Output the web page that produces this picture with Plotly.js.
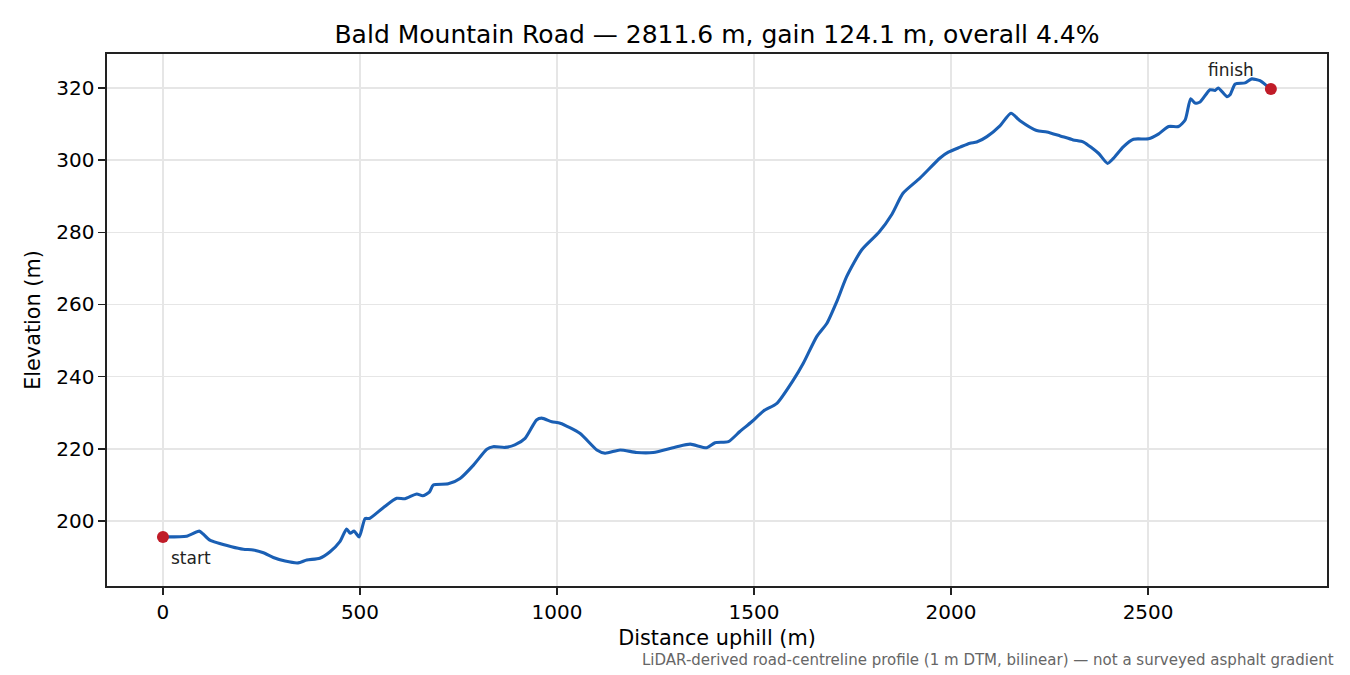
<!DOCTYPE html>
<html>
<head>
<meta charset="utf-8">
<script src="https://cdn.plot.ly/plotly-3.0.1.min.js"></script>
<style>
  html, body { margin: 0; padding: 0; background: #fff; }
  #profilePlot { width: 1350px; height: 675px; }
</style>
</head>
<body>
<div id="profilePlot"></div>
<script>
// distance along the road (m) and elevation (m)
var dist = [
  0, 60, 92, 102, 119, 174, 204, 229, 255, 280, 310, 343, 365, 398, 424, 449,
  466, 475, 485, 498, 513, 524, 559, 593, 614, 644, 659, 676, 686, 724, 754,
  788, 822, 838, 868, 893, 919, 948, 961, 987, 1008, 1058, 1101, 1122, 1160,
  1202, 1244, 1304, 1338, 1380, 1401, 1435, 1464, 1494, 1524, 1558, 1600,
  1625, 1659, 1685, 1710, 1735, 1773, 1817, 1850, 1878, 1921, 1972, 1993,
  2023, 2048, 2065, 2091, 2124, 2152, 2175, 2217, 2243, 2277, 2310, 2336,
  2374, 2397, 2412, 2437, 2463, 2501, 2526, 2552, 2577, 2594, 2608, 2619,
  2632, 2657, 2670, 2678, 2700, 2708, 2721, 2746, 2763, 2784, 2801, 2811.6
];
var elev = [
  195.6, 195.8, 197.2, 196.4, 194.7, 192.9, 192.2, 192.0, 191.2, 189.9, 188.9,
  188.4, 189.2, 189.7, 191.5, 194.3, 197.8, 196.6, 197.2, 195.6, 200.7, 200.7,
  203.7, 206.3, 206.2, 207.5, 207.0, 208.0, 210.0, 210.3, 211.8, 215.5, 219.9,
  220.6, 220.4, 221.1, 222.9, 228.0, 228.5, 227.5, 227.1, 224.3, 219.7, 218.8,
  219.7, 219.0, 219.0, 220.6, 221.3, 220.3, 221.7, 222.0, 224.8, 227.5, 230.5,
  232.6, 239.1, 243.7, 251.1, 254.8, 260.8, 267.7, 275.1, 280.0, 285.0, 290.8,
  295.0, 300.6, 302.2, 303.6, 304.7, 305.0, 306.5, 309.5, 313.0, 310.9, 308.2,
  307.8, 306.7, 305.6, 305.0, 301.9, 299.1, 300.5, 303.7, 305.8, 305.9, 307.2,
  309.3, 309.3, 311.1, 317.0, 315.8, 316.1, 319.5, 319.3, 320.0, 317.6, 318.1,
  321.1, 321.4, 322.5, 322.0, 320.6, 319.7
];
var endDist = [0, 2811.6];
var endElev = [195.6, 319.7];
var endLabels = ["start", "finish"];

var chartTitle = "Bald Mountain Road — 2811.6 m, gain 124.1 m, overall 4.4%";
var footNote = "LiDAR-derived road-centreline profile (1 m DTM, bilinear) — not a surveyed asphalt gradient";

var cb_profilePlot = function () {
  let trace1 = {
    x: dist,
    y: elev,
    type: "scatter",
    mode: "lines",
    line: { color: "#1a5fb4", width: 3.1, shape: "spline", smoothing: 0.6 },
    hoverinfo: "skip",
  };

  let trace2 = {
    x: endDist,
    y: endElev,
    type: "scatter",
    mode: "markers",
    marker: { color: "#c01c28", size: 12 },
    hoverinfo: "skip",
  };

  let axisCommon = {
    showline: true,
    mirror: true,
    linecolor: "#222",
    linewidth: 1.6,
    ticks: "outside",
    ticklen: 7,
    tickwidth: 1.6,
    tickcolor: "#222",
    showgrid: true,
    gridcolor: "#e6e6e6",
    gridwidth: 1.3,
    zeroline: false,
    tickfont: { family: "DejaVu Sans", size: 20, color: "#000" },
  };

  let layout = {
    width: 1350,
    height: 675,
    showlegend: false,
    paper_bgcolor: "#fff",
    plot_bgcolor: "#fff",
    margin: { l: 107, r: 23, t: 54, b: 89, pad: 0 },
    font: { family: "DejaVu Sans", color: "#000" },
    title: {
      text: chartTitle,
      font: { family: "DejaVu Sans", size: 25, color: "#000" },
      xref: "paper",
      x: 0.5,
      xanchor: "center",
      y: 0.95,
      yanchor: "middle",
    },
    xaxis: Object.assign({}, axisCommon, {
      range: [-142, 2954],
      tickvals: [0, 500, 1000, 1500, 2000, 2500],
      title: { text: "Distance uphill (m)", font: { family: "DejaVu Sans", size: 20.8 }, standoff: 8 },
    }),
    yaxis: Object.assign({}, axisCommon, {
      range: [182.0, 329.4],
      tickvals: [200, 220, 240, 260, 280, 300, 320],
      title: { text: "Elevation (m)", font: { family: "DejaVu Sans", size: 20.8 }, standoff: 10 },
    }),
    annotations: [
      {
        x: endDist[0], y: endElev[0], xref: "x", yref: "y",
        text: endLabels[0], showarrow: false,
        xanchor: "left", yanchor: "middle", xshift: 6, yshift: -21,
        font: { family: "DejaVu Sans", size: 17, color: "#222" },
      },
      {
        x: endDist[1], y: endElev[1], xref: "x", yref: "y",
        text: endLabels[1], showarrow: false,
        xanchor: "right", yanchor: "middle", xshift: -15, yshift: 19,
        font: { family: "DejaVu Sans", size: 17, color: "#222" },
      },
      {
        x: 1, y: 0, xref: "paper", yref: "paper",
        text: footNote, showarrow: false,
        xanchor: "right", yanchor: "middle", xshift: 9, yshift: -74,
        font: { family: "DejaVu Sans", size: 15, color: "#666" },
      },
    ],
  };

  let config = { responsive: false, displayModeBar: false, staticPlot: true };

  Plotly.newPlot("profilePlot", [trace1, trace2], layout, config);
};

cb_profilePlot();
</script>
</body>
</html>
